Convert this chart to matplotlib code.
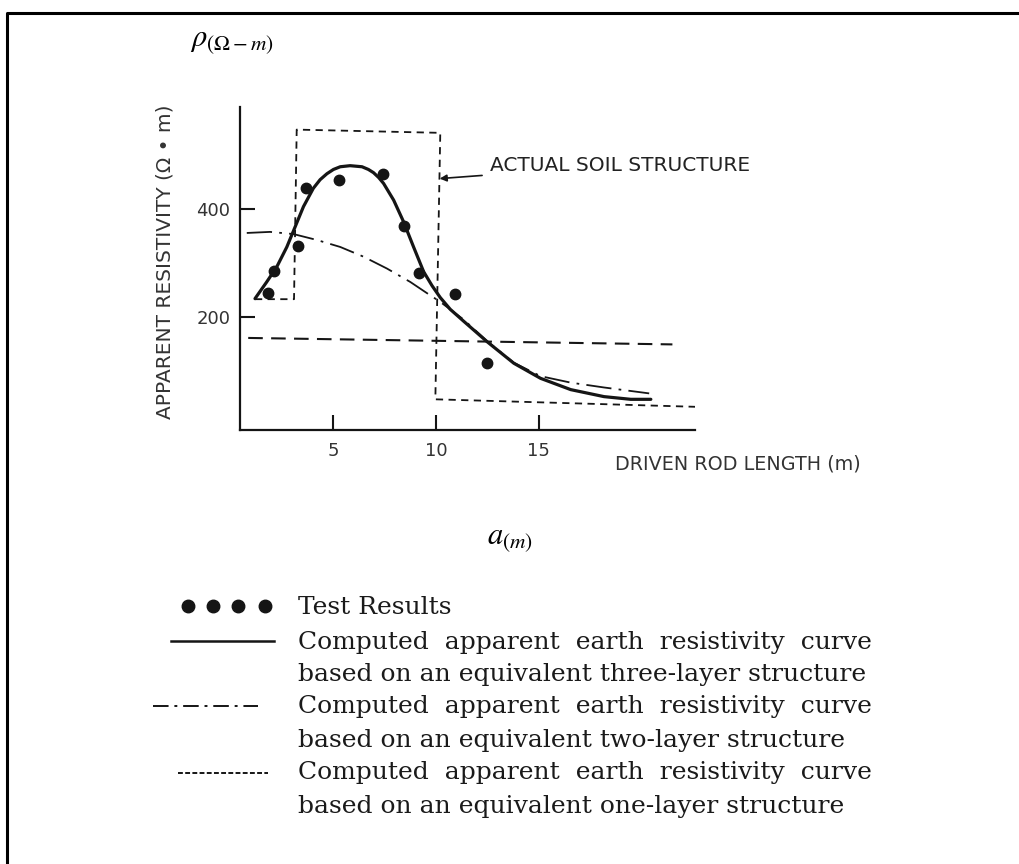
import matplotlib
matplotlib.use("Agg")
import matplotlib.pyplot as plt
from matplotlib.lines import Line2D

plt.rcParams['mathtext.fontset'] = 'stix'

# test results: driven rod length (m) vs apparent resistivity (ohm-m)
rod_len_test = [1.80, 2.12, 3.29, 3.65, 5.29, 7.41, 8.41, 9.18, 10.94, 12.45]
rho_test = [245, 286, 331, 439, 454, 465, 369, 281, 242, 114]

# computed curve, equivalent three-layer structure
three_layer_x = [1.18, 1.75, 2.24, 2.73, 3.13, 3.54, 4.02, 4.35, 4.68, 5.00, 5.33,
                 5.81, 6.39, 6.70, 6.95, 7.20, 7.44, 7.93, 8.41, 8.90, 9.39,
                 9.80, 10.20, 10.69, 11.34, 12.48, 13.78, 15.08, 16.55, 18.17,
                 19.47, 20.45]
three_layer_rho = [234, 265, 293, 330, 367, 405, 439, 455, 466, 474, 479,
                   481, 479, 474, 468, 459, 448, 417, 377, 330, 284,
                   258, 236, 214, 192, 154, 114, 86, 65, 52,
                   47, 47]

# computed curve, equivalent two-layer structure
two_layer_x = [0.78, 1.91, 3.05, 4.19, 5.33, 6.46, 7.60, 8.74, 9.56, 10.20,
               11.34, 12.48, 13.78, 15.08, 16.55, 18.17, 20.37]
two_layer_rho = [356, 358, 354, 343, 330, 312, 290, 265, 244, 228,
                 195, 155, 115, 90, 78, 69, 58]

# computed curve, equivalent one-layer structure
one_layer_x = [0.85, 21.5]
one_layer_rho = [161, 149]

# actual soil structure (layer resistivities vs depth)
soil_x = [1.18, 3.08, 3.21, 10.20, 9.96, 22.7]
soil_rho = [233, 233, 548, 542, 47, 33]

legend_labels = [
    ["Test Results"],
    ["Computed  apparent  earth  resistivity  curve",
     "based on an equivalent three-layer structure"],
    ["Computed  apparent  earth  resistivity  curve",
     "based on an equivalent two-layer structure"],
    ["Computed  apparent  earth  resistivity  curve",
     "based on an equivalent one-layer structure"],
]

ink = '#151515'
W, H = 1020, 864

fig = plt.figure(figsize=(W / 100, H / 100), dpi=100, facecolor='white')


def fx(px):
    return px / W


def fy(py):
    return 1 - py / H


ax = fig.add_axes([fx(240), fy(430), fx(695) - fx(240), fy(107) - fy(430)])

ax.plot(soil_x, soil_rho, color=ink, lw=1.3, ls=(0, (4, 3)))
ax.plot(one_layer_x, one_layer_rho, color=ink, lw=1.5, ls=(0, (7, 4)))
ax.plot(two_layer_x, two_layer_rho, color=ink, lw=1.3, ls=(0, (14, 4, 1.5, 4)))
ax.plot(three_layer_x, three_layer_rho, color=ink, lw=2.3,
        solid_capstyle='round', solid_joinstyle='round')
ax.plot(rod_len_test, rho_test, 'o', color=ink, ms=7.5)

ax.annotate('ACTUAL SOIL STRUCTURE', xy=(10.17, 457), xytext=(12.64, 482),
            fontsize=14.5, color='#222222', va='center', ha='left',
            annotation_clip=False,
            arrowprops=dict(arrowstyle='-|>', color=ink, lw=1.2,
                            mutation_scale=10, shrinkA=4, shrinkB=0))

ax.set_xlim(0.45, 22.6)
ax.set_ylim(-10, 590)
ax.set_xticks([5, 10, 15])
ax.set_yticks([200, 400])
ax.tick_params(direction='in', length=11, width=1.5, color=ink,
               labelsize=13, labelcolor='#333333')
ax.tick_params(axis='y', pad=7)
ax.tick_params(axis='x', pad=9)
for spine in ('top', 'right'):
    ax.spines[spine].set_visible(False)
for spine in ('left', 'bottom'):
    ax.spines[spine].set_linewidth(1.6)
    ax.spines[spine].set_color(ink)

fig.text(fx(165), fy(262), 'APPARENT RESISTIVITY (Ω • m)', rotation=90,
         ha='center', va='center', fontsize=14.5, color='#333333')
fig.text(fx(615), fy(464), 'DRIVEN ROD LENGTH (m)', ha='left', va='center',
         fontsize=13.8, color='#333333')

fig.text(fx(190), fy(42), r'$\rho_{(\Omega - m)}$', fontsize=22, ha='left', va='center')
fig.text(fx(510), fy(540), r'$a_{(m)}$', fontsize=22, ha='center', va='center')

# legend block below the chart
fig.add_artist(Line2D([fx(188), fx(213), fx(238), fx(265)], [fy(606)] * 4,
                      ls='none', marker='o', ms=9, color=ink))
fig.add_artist(Line2D([fx(171), fx(274)], [fy(641)] * 2, color=ink, lw=1.8))
fig.add_artist(Line2D([fx(153), fx(258)], [fy(706)] * 2, color=ink, lw=1.4,
                      ls=(0, (8, 3, 1.5, 3))))
fig.add_artist(Line2D([fx(178), fx(268)], [fy(773)] * 2, color=ink, lw=1.4,
                      ls=(0, (2.5, 1.2))))

row_y = [[608], [642, 675], [707, 740], [773, 806]]
for lines, ys in zip(legend_labels, row_y):
    for txt, y in zip(lines, ys):
        fig.text(fx(298), fy(y), txt, ha='left', va='center',
                 family='DejaVu Serif', fontsize=18, color='#1a1a1a')

# page frame (top and left edges)
fig.add_artist(Line2D([fx(7), fx(7), 1], [0, fy(13), fy(13)], color='black', lw=2.2))

fig.savefig('out.png', dpi=100, facecolor='white')
